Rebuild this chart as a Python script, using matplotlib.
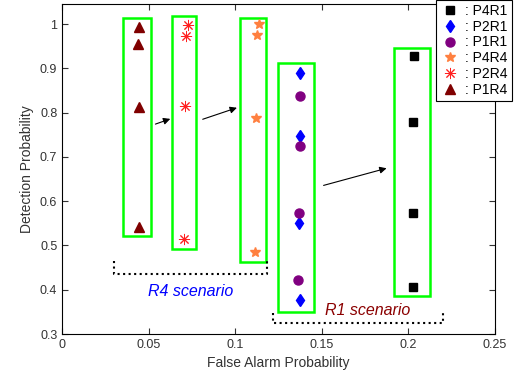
# Detection vs false alarm probability, R4 / R1 scenarios

import matplotlib.pyplot as plt
from matplotlib.patches import Rectangle

plt.rcParams['font.family'] = ['Liberation Sans', 'DejaVu Sans']

# data
p1r4_x = [0.0445, 0.0440, 0.0442, 0.0442]
p1r4_y = [0.993, 0.955, 0.812, 0.541]
p2r4_x = [0.0728, 0.0715, 0.0710, 0.0705]
p2r4_y = [0.997, 0.973, 0.815, 0.514]
p4r4_x = [0.1135, 0.1125, 0.1118, 0.1113]
p4r4_y = [1.000, 0.975, 0.787, 0.485]
p2r1_x = [0.1372, 0.1372, 0.1370, 0.1372]
p2r1_y = [0.889, 0.747, 0.551, 0.377]
p1r1_x = [0.1375, 0.1372, 0.1368, 0.1365]
p1r1_y = [0.837, 0.724, 0.573, 0.422]
p4r1_x = [0.2030, 0.2028, 0.2025, 0.2025]
p4r1_y = [0.928, 0.779, 0.573, 0.406]

# green boxes (x0, x1, y0, y1)
boxes = [
    (0.0352, 0.0514, 0.521, 1.013),
    (0.0635, 0.0774, 0.492, 1.018),
    (0.1028, 0.1178, 0.4625, 1.013),
    (0.1247, 0.1455, 0.350, 0.912),
    (0.1917, 0.2125, 0.386, 0.946),
]

# arrows (x_start, y_start, x_end, y_end)
arrows = [
    (0.0524, 0.772, 0.0640, 0.788),
    (0.0797, 0.783, 0.1025, 0.813),
    (0.1495, 0.634, 0.1890, 0.676),
]

fig = plt.figure(figsize=(5.22, 3.77), dpi=100)
ax = fig.add_axes([0.119, 0.114, 0.829, 0.875])

for x0, x1, y0, y1 in boxes:
    ax.add_patch(Rectangle((x0, y0), x1 - x0, y1 - y0, fill=False,
                           edgecolor='#00ff00', linewidth=1.8, zorder=2))

for xs, ys, xe, ye in arrows:
    ax.annotate('', xy=(xe, ye), xytext=(xs, ys),
                arrowprops=dict(arrowstyle='-|>', color='black', lw=0.8,
                                mutation_scale=10))

# dotted brackets
ax.plot([0.030, 0.030, 0.1184, 0.1184], [0.465, 0.436, 0.436, 0.465],
        color='black', linestyle=':', linewidth=1.5)
ax.plot([0.1218, 0.1218, 0.2200, 0.2200], [0.347, 0.325, 0.325, 0.347],
        color='black', linestyle=':', linewidth=1.5)

ax.text(0.074, 0.395, 'R4 scenario', color='blue', fontsize=11.5,
        style='italic', ha='center', va='center')
ax.text(0.1767, 0.354, 'R1 scenario', color='#8b0000', fontsize=11.5,
        style='italic', ha='center', va='center')

ax.plot(p4r1_x, p4r1_y, 's', color='black', ms=6, label=': P4R1')
ax.plot(p2r1_x, p2r1_y, 'd', color='blue', ms=6, label=': P2R1')
ax.plot(p1r1_x, p1r1_y, 'o', color='#800080', ms=6.5, label=': P1R1')
ax.plot(p4r4_x, p4r4_y, '*', color='#ff8040', ms=7, label=': P4R4')
ax.plot(p2r4_x, p2r4_y, linestyle='none', marker=(8, 2, 0), color='#ff2020',
        ms=8, mew=0.7, label=': P2R4')
ax.plot(p1r4_x, p1r4_y, '^', color='#800000', ms=7, label=': P1R4')

ax.set_xlim(0, 0.25)
ax.set_ylim(0.3, 1.045)
ax.set_xticks([0, 0.05, 0.1, 0.15, 0.2, 0.25])
ax.set_xticklabels(['0', '0.05', '0.1', '0.15', '0.2', '0.25'])
ax.set_yticks([0.3, 0.4, 0.5, 0.6, 0.7, 0.8, 0.9, 1])
ax.set_yticklabels(['0.3', '0.4', '0.5', '0.6', '0.7', '0.8', '0.9', '1'])
ax.tick_params(direction='in', top=True, right=True, labelsize=9,
               colors='#333333', length=4)
ax.tick_params(labelcolor='#333333')

ax.set_xlabel('False Alarm Probability', fontsize=10, color='#333333')
ax.set_ylabel('Detection Probability', fontsize=10, color='#333333')

leg = ax.legend(loc='upper right', bbox_to_anchor=(0.981, 1.0),
                bbox_transform=fig.transFigure, fontsize=10,
                fancybox=False, framealpha=1, edgecolor='black',
                handlelength=1.4, handletextpad=0.4, borderpad=0.3,
                labelspacing=0.12, numpoints=1, borderaxespad=0)
leg.get_frame().set_linewidth(0.8)

fig.savefig('out.png', dpi=100)
